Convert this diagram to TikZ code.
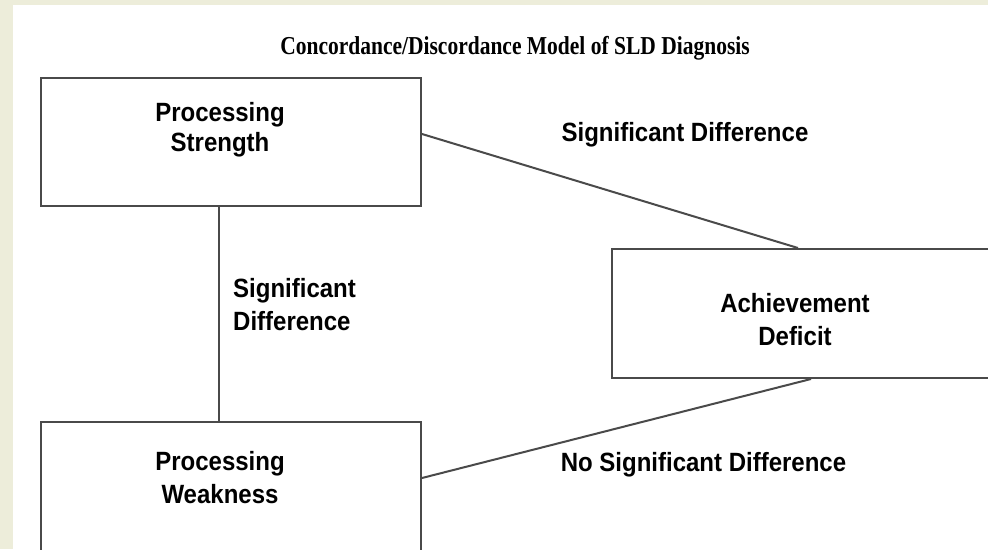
\documentclass[tikz,border=0pt]{standalone}
\usepackage{fontspec}
\usepackage{graphicx}
\setmainfont{Liberation Serif}
\newfontfamily\arialf{Liberation Sans}
\definecolor{cream}{HTML}{EDEDDA}
\definecolor{linegray}{HTML}{4A4A4A}
\newcommand\tallr[1]{\scalebox{1}[1.1]{#1}}
\newcommand\talltitle[1]{\scalebox{1}[1.2]{#1}}
\begin{document}
\begin{tikzpicture}[x=1pt,y=-1pt,
  box/.style={draw=linegray, line width=2pt, fill=white, inner sep=0pt, anchor=north west},
  lbl/.style={font=\arialf\bfseries\fontsize{24}{33}\selectfont, text=black, inner sep=0pt},
  conn/.style={draw=linegray, line width=2pt}]
\fill[cream] (0,0) rectangle (988,549);
\fill[white] (13,5) rectangle (988,549);
\useasboundingbox (0,0) rectangle (988,549);
% boxes
\node[box, minimum width=380pt, minimum height=128pt] (PS) at (40,77) {};
\node[box, minimum width=389pt, minimum height=129pt] (AD) at (611,248) {};
\node[box, minimum width=380pt, minimum height=139pt] (PW) at (40,421) {};
% connectors
\draw[conn] ([xshift=-12pt]PS.south) -- ([xshift=-12pt]PW.north);
\draw[conn] ([yshift=8pt]PS.east) -- ([xshift=-8.5pt]AD.north);
\draw[conn] ([yshift=13.5pt]PW.east) -- ([xshift=4.5pt]AD.south);
% texts
\node[font=\bfseries\fontsize{21.5}{24}\selectfont, inner sep=0pt] (title) at (515,48) {\talltitle{Concordance/Discordance Model of SLD Diagnosis}};
\node[lbl, align=center, font=\arialf\bfseries\fontsize{24}{30}\selectfont] (PStext) at (220,130) {\tallr{Processing}\\\tallr{Strength}};
\node[lbl, align=center] (ADtext) at (795,320) {\tallr{Achievement}\\\tallr{Deficit}};
\node[lbl, align=center] (PWtext) at (220,478) {\tallr{Processing}\\\tallr{Weakness}};
\node[lbl, align=left, anchor=west] (sd1) at (233,305) {\tallr{Significant}\\\tallr{Difference}};
\node[lbl] (sd2) at (685,135) {\tallr{Significant Difference}};
\node[lbl] (nsd) at (703.5,465) {\tallr{No Significant Difference}};
\end{tikzpicture}
\end{document}
